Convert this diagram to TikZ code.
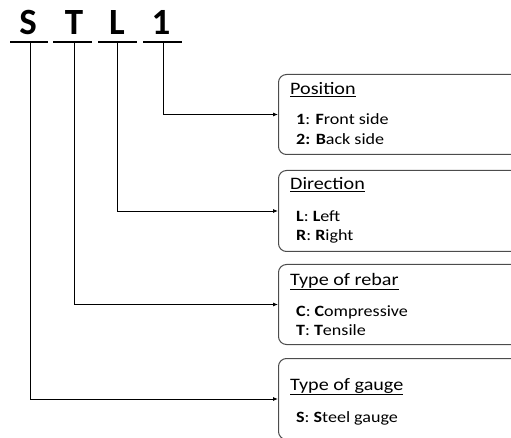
\documentclass[tikz,border=0pt]{standalone}
\usepackage{fontspec}
\setmainfont{Carlito}
\newfontfamily\wideface[FakeStretch=1.15]{Carlito}
\usetikzlibrary{arrows.meta}
\begin{document}
\begin{tikzpicture}[x=1pt,y=-1pt,
  big/.style={font=\fontsize{37}{37}\selectfont\bfseries, anchor=base, inner sep=0pt},
  bar/.style={line width=2pt},
  conn/.style={line width=0.8pt, -{Latex[length=5pt,width=4pt]}},
  box/.style={draw=black!70, line width=1pt, rounded corners=8pt, anchor=north west, minimum width=250pt, inner sep=0pt},
  ttl/.style={font=\wideface\fontsize{17.5}{18}\selectfont, anchor=base west, inner sep=0pt},
  itm/.style={font=\wideface\fontsize{15.7}{17}\selectfont, anchor=base west, inner sep=0pt}]
\clip (0,0) rectangle (511,438);
\useasboundingbox (0,0) rectangle (511,438);
% letters
\node[big] (ls) at (28,35) {S};
\node[big] (lt) at (74,35) {T};
\node[big] (ll) at (117,35) {L};
\node[big] (l1) at (161,35) {1};
\draw[bar] (10,42) -- (48,42);
\draw[bar] (53,42) -- (92,42);
\draw[bar] (98,42) -- (137,42);
\draw[bar] (143,42) -- (182,42);
\coordinate (cs) at (30,42);
\coordinate (ct) at (74,42);
\coordinate (cl) at (117,42);
\coordinate (c1) at (163,42);
% boxes
\node[box, minimum height=80pt] (pos) at (278,74) {};
\node[box, minimum height=81pt] (dir) at (278,170) {};
\node[box, minimum height=80pt] (reb) at (278,264) {};
\node[box, minimum height=81pt] (gau) at (278,358) {};
% connectors
\draw[conn] (c1) |- (pos.west);
\draw[conn] (cl) |- (dir.west);
\draw[conn] (ct) |- (reb.west);
\draw[conn] (cs) |- (gau.west);
% texts
\node[ttl] (pt) at (290,95) {\underline{Position}};
\node[itm] (p1) at (296,125) {\textbf{1}: \textbf{F}ront side};
\node[itm] (p2) at (296,145) {\textbf{2: B}ack side};
\node[ttl] (dt) at (290,190) {\underline{Direction}};
\node[itm] (d1) at (296,222) {\textbf{L}: \textbf{L}eft};
\node[itm] (d2) at (296,241) {\textbf{R}: \textbf{R}ight};
\node[ttl] (rt) at (290,285) {\underline{Type of rebar}};
\node[itm] (r1) at (296,316) {\textbf{C}: \textbf{C}ompressive};
\node[itm] (r2) at (296,335) {\textbf{T}: \textbf{T}ensile};
\node[ttl] (gt) at (290,390) {\underline{Type of gauge}};
\node[itm] (g1) at (296,422) {\textbf{S}: \textbf{S}teel gauge};
\end{tikzpicture}
\end{document}
